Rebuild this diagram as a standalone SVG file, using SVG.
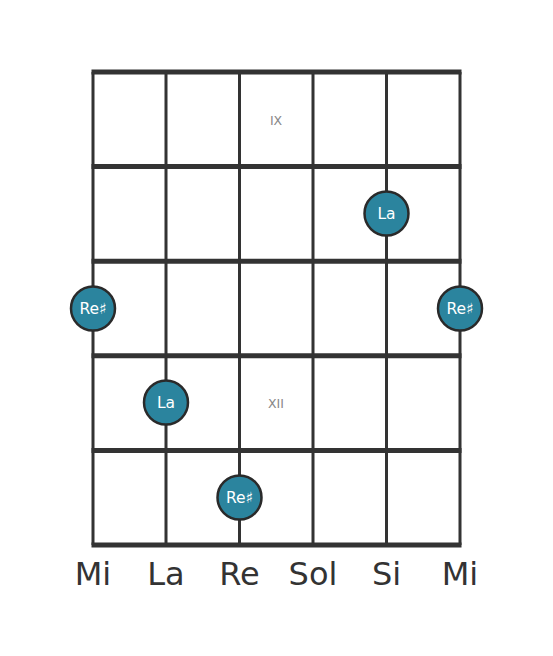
<svg xmlns="http://www.w3.org/2000/svg" width="553" height="656" viewBox="0 0 553 656">
<style>
.fret{stroke:#333;stroke-width:5}
.str{stroke:#333;stroke-width:3}
.dot{fill:#2b849e;stroke:#2a2a2a;stroke-width:2.5}
.nt{font-family:"DejaVu Sans",sans-serif;font-size:15.5px;fill:#fff;text-anchor:middle}
.pos{font-family:"DejaVu Sans",sans-serif;font-size:12.5px;fill:#888;text-anchor:middle}
.sn{font-family:"DejaVu Sans",sans-serif;font-size:32px;fill:#333;text-anchor:middle}
</style>
<rect width="553" height="656" fill="#fff"/>
<g id="connectors">
<line class="str" x1="93" y1="72" x2="93" y2="545"/>
<line class="str" x1="166" y1="72" x2="166" y2="545"/>
<line class="str" x1="239.5" y1="72" x2="239.5" y2="545"/>
<line class="str" x1="313" y1="72" x2="313" y2="545"/>
<line class="str" x1="386.5" y1="72" x2="386.5" y2="545"/>
<line class="str" x1="460" y1="72" x2="460" y2="545"/>
<line class="fret" x1="91.5" y1="72" x2="461.5" y2="72"/>
<line class="fret" x1="91.5" y1="166.6" x2="461.5" y2="166.6"/>
<line class="fret" x1="91.5" y1="261.2" x2="461.5" y2="261.2"/>
<line class="fret" x1="91.5" y1="355.8" x2="461.5" y2="355.8"/>
<line class="fret" x1="91.5" y1="450.4" x2="461.5" y2="450.4"/>
<line class="fret" x1="91.5" y1="545" x2="461.5" y2="545"/>
</g>
<g id="pos-ix"><text class="pos" x="276" y="125">IX</text></g>
<g id="pos-xii"><text class="pos" x="276" y="408">XII</text></g>
<g id="n1"><circle class="dot" cx="386.5" cy="213.5" r="22"/><text class="nt" x="386.5" y="219">La</text></g>
<g id="n2"><circle class="dot" cx="93" cy="308.5" r="22"/><text class="nt" x="93" y="314">Re♯</text></g>
<g id="n3"><circle class="dot" cx="460" cy="308.5" r="22"/><text class="nt" x="460" y="314">Re♯</text></g>
<g id="n4"><circle class="dot" cx="166" cy="402.5" r="22"/><text class="nt" x="166" y="408">La</text></g>
<g id="n5"><circle class="dot" cx="239.5" cy="497.5" r="22"/><text class="nt" x="239.5" y="503">Re♯</text></g>
<g id="strings">
<text class="sn" x="93" y="585">Mi</text>
<text class="sn" x="166" y="585">La</text>
<text class="sn" x="239.5" y="585">Re</text>
<text class="sn" x="313" y="585">Sol</text>
<text class="sn" x="386.5" y="585">Si</text>
<text class="sn" x="460" y="585">Mi</text>
</g>
</svg>
